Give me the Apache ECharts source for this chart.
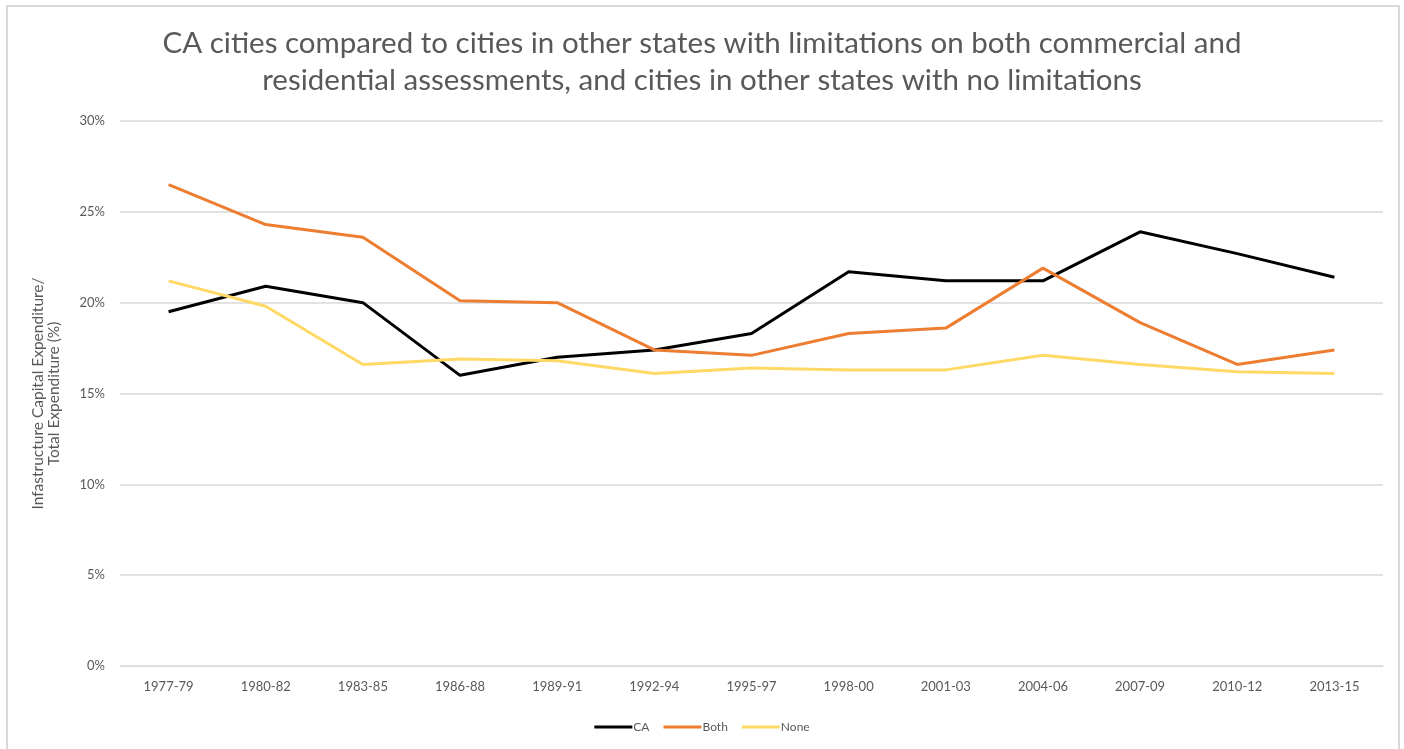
<!DOCTYPE html>
<html><head><meta charset="utf-8">
<script src="https://cdn.jsdelivr.net/npm/echarts@6/dist/echarts.min.js"></script>
<style>html,body{margin:0;padding:0;background:#fff}#c{width:1404px;height:749px}</style>
</head><body><div id="c"></div>
<script>
const categories = ['1977-79','1980-82','1983-85','1986-88','1989-91','1992-94','1995-97','1998-00','2001-03','2004-06','2007-09','2010-12','2013-15'];
const caValues   = [19.5, 20.9, 20.0, 16.0, 17.0, 17.4, 18.3, 21.7, 21.2, 21.2, 23.9, 22.7, 21.4];
const bothValues = [26.5, 24.3, 23.6, 20.1, 20.0, 17.4, 17.1, 18.3, 18.6, 21.9, 18.9, 16.6, 17.4];
const noneValues = [21.2, 19.8, 16.6, 16.9, 16.8, 16.1, 16.4, 16.3, 16.3, 17.1, 16.6, 16.2, 16.1];
const yTicks = [0, 5, 10, 15, 20, 25, 30];

const FONT = 'Lato, "Open Sans", sans-serif';
const chart = echarts.init(document.getElementById('c'), null, {renderer: 'canvas'});
chart.setOption({
  animation: false,
  backgroundColor: '#fff',
  textStyle: {fontFamily: FONT},
  title: {
    text: 'CA cities compared to cities in other states with limitations on both commercial and\nresidential assessments, and cities in other states with no limitations',
    left: 'center', top: 20,
    textStyle: {fontFamily: FONT, fontSize: 29.5, fontWeight: 'normal', color: '#595959', lineHeight: 37}
  },
  graphic: [{
    type: 'rect', shape: {x: 7, y: 6, width: 1392, height: 770},
    style: {fill: 'none', stroke: '#d9d9d9', lineWidth: 2}, silent: true
  }],
  legend: {
    bottom: 11, left: 'center', itemWidth: 38, itemHeight: 3, itemGap: 14,
    icon: 'rect',
    textStyle: {fontFamily: FONT, fontSize: 12, color: '#595959', padding: [0,0,0,-4]},
    data: ['CA', 'Both', 'None']
  },
  grid: {left: 120, right: 21, top: 121, bottom: 83, containLabel: false},
  xAxis: {
    type: 'category', data: categories, boundaryGap: true,
    axisLine: {show: true, lineStyle: {color: '#d9d9d9', width: 1}},
    axisTick: {show: false},
    axisLabel: {fontFamily: FONT, fontSize: 13, color: '#595959', margin: 14, interval: 0}
  },
  yAxis: {
    type: 'value', min: yTicks[0], max: yTicks[yTicks.length-1], interval: 5,
    name: 'Infastructure Capital Expenditure/\nTotal Expenditure (%)',
    nameLocation: 'middle', nameGap: 58, nameRotate: 90,
    nameTextStyle: {fontFamily: FONT, fontSize: 15.5, color: '#595959', lineHeight: 16},
    axisLine: {show: false}, axisTick: {show: false},
    axisLabel: {fontFamily: FONT, fontSize: 13, color: '#595959', margin: 15, formatter: v => v + '%'},
    splitLine: {lineStyle: {color: '#d9d9d9', width: 1.5}}
  },
  series: [
    {name: 'CA', type: 'line', data: caValues, symbol: 'none', lineStyle: {color: '#000000', width: 3}, itemStyle: {color: '#000000'}},
    {name: 'Both', type: 'line', data: bothValues, symbol: 'none', lineStyle: {color: '#ed7d31', width: 3}, itemStyle: {color: '#ed7d31'}},
    {name: 'None', type: 'line', data: noneValues, symbol: 'none', lineStyle: {color: '#ffd966', width: 3}, itemStyle: {color: '#ffd966'}}
  ]
});
</script></body></html>
